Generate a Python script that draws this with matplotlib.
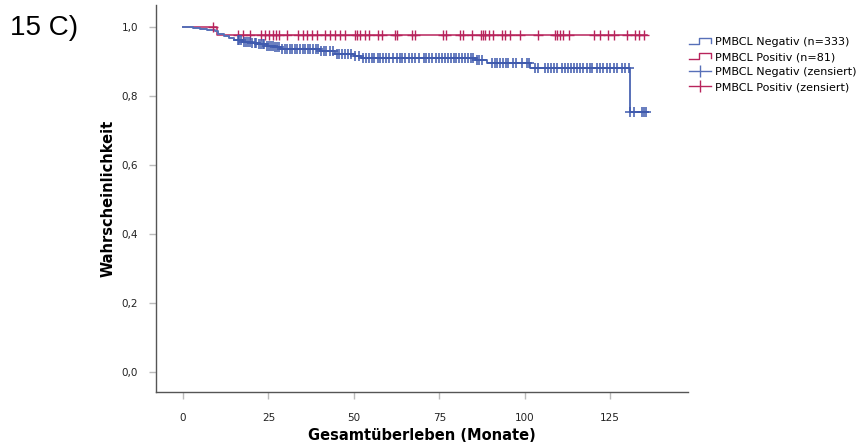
import numpy as np
import matplotlib
matplotlib.use("Agg")
import matplotlib.pyplot as plt
from matplotlib.lines import Line2D
from matplotlib.legend_handler import HandlerBase

# ---- data ----
neg_step_t = [0, 3, 5, 7, 9.5, 10.2, 12, 13.5, 15, 17.5, 20, 22, 24.5, 26.5, 28.5,
              40, 44.5, 50, 52, 85.7, 89, 101.6, 130.8, 136.2]
neg_step_s = [1.0, 0.997, 0.994, 0.991, 0.988, 0.979, 0.973, 0.968, 0.962, 0.958, 0.954,
              0.950, 0.946, 0.942, 0.937, 0.930, 0.921, 0.916, 0.911, 0.904, 0.895,
              0.880, 0.754, 0.754]
pos_step_t = [0, 9.9, 135.8]
pos_step_s = [1.0, 0.976, 0.976]

neg_cens = [16, 16.5, 17, 17.8, 18.5, 19, 19.6, 20.3, 21, 21.5, 22.3, 22.8, 23.3, 23.8,
            24.6, 25.2, 25.8, 26.3, 27, 27.6, 28.2, 29, 29.8, 30.5, 31.2, 32, 32.8, 33.5,
            34.2, 35, 35.8, 36.5, 37.2, 38, 38.8, 39.6, 40.4, 41.2, 42, 43, 44, 45,
            45.8, 46.6, 47.5, 48.3, 49.2, 50.4, 51.5, 52.6, 53.5, 54.3, 55.2, 56, 57,
            57.8, 58.6, 59.5, 60.3, 61.5, 62.5, 63.4, 64.2, 65, 66, 67, 68, 69.2, 70.4,
            71.2, 72.1, 73, 74, 75, 75.8, 76.6, 77.5, 78.3, 79.2, 80, 80.8, 81.7, 82.5,
            83.4, 84.2, 85, 86, 86.7, 87.4, 90.4, 91.2, 92, 92.8, 93.6, 94.4, 95.2,
            96.5, 97.5, 99.2, 100.6, 101.4, 103, 103.9, 106, 106.8, 107.6, 108.5, 109.4,
            110.9, 111.8, 112.7, 113.6, 114.5, 115.4, 116.3, 117.2, 118.2, 119.2, 119.6,
            121.1, 122, 123, 124, 125, 126, 127, 128.5, 129.4, 130.4, 130.9,
            131.9, 134.2, 134.9, 135.5]
pos_cens = [8.8, 16.2, 17.7, 19.6, 22.8, 24.0, 25.3, 26.3, 27.2, 28.2, 30.3, 33.8, 35.0,
            36.2, 37.7, 39.1, 41.6, 43.0, 44.5, 46.0, 47.4, 50.4, 51.0, 51.8, 53.3, 54.3,
            57.2, 58.2, 62.1, 62.7, 66.9, 67.9, 76.0, 77.0, 81.1, 81.9, 84.7, 87.1, 87.7,
            88.4, 89.7, 90.8, 93.3, 94.3, 95.7, 98.7, 104.0, 108.9, 109.4, 110.2, 111.3,
            113.1, 120.3, 122.1, 124.5, 126.0, 129.9, 132.3, 133.6, 134.8]

labels = ["PMBCL Negativ (n=333)", "PMBCL Positiv (n=81)",
          "PMBCL Negativ (zensiert)", "PMBCL Positiv (zensiert)"]
x_ticks = [0, 25, 50, 75, 100, 125]
y_ticks = [0.0, 0.2, 0.4, 0.6, 0.8, 1.0]

BLUE = "#3F5AAE"
BLUE_LINE = "#5770B8"
RED = "#B8245C"

def surv_at(tt, ss, x):
    idx = np.searchsorted(tt, x, side="right") - 1
    return np.asarray(ss)[idx]

fig = plt.figure(figsize=(8.67, 4.45), dpi=100)
ax = fig.add_axes([156/867, 1-392/445, (688-156)/867, (392-5)/445])

ax.step(neg_step_t, neg_step_s, where="post", color=BLUE_LINE, lw=1.4, zorder=3)
ax.step(pos_step_t, pos_step_s, where="post", color=RED, lw=1.1, zorder=2)
ax.plot(neg_cens, surv_at(neg_step_t, neg_step_s, neg_cens), ls="none", marker="+",
        ms=7, mew=1.1, color=BLUE, zorder=4)
ax.plot(pos_cens, surv_at(pos_step_t, pos_step_s, pos_cens), ls="none", marker="+",
        ms=7, mew=1.0, color=RED, zorder=3)

ax.set_xlim(-7.9, 147.8)
ax.set_ylim(-0.058, 1.064)
ax.set_xticks(x_ticks)
ax.set_yticks(y_ticks)
ax.set_yticklabels([f"{v:.1f}".replace(".", ",") for v in y_ticks])
for s in ["top", "right"]:
    ax.spines[s].set_visible(False)
for s in ["left", "bottom"]:
    ax.spines[s].set_color("#555555")
    ax.spines[s].set_linewidth(1.0)
ax.tick_params(axis="both", direction="out", length=5, width=1.0, color="#bbbbbb",
               labelsize=7.5, labelcolor="#222222", pad=8)
ax.tick_params(axis="x", pad=10)

ax.set_xlabel("Gesamtüberleben (Monate)", fontsize=10.5, fontweight="bold", labelpad=4)
ax.set_ylabel("Wahrscheinlichkeit", fontsize=10.5, fontweight="bold", labelpad=4)

fig.text(10/867, 1-28/445, "15 C)", fontsize=20, family="Liberation Sans",
         va="center", ha="left")

class StepHandler(HandlerBase):
    def create_artists(self, legend, orig_handle, xdescent, ydescent, width, height,
                       fontsize, trans):
        x0 = -xdescent
        y0 = -ydescent + height * 0.15
        y1 = -ydescent + height * 0.85
        xs = [x0, x0 + width * 0.45, x0 + width * 0.45, x0 + width, x0 + width]
        ys = [y0, y0, y1, y1, y0 + (y1 - y0) * 0.2]
        ln = Line2D(xs, ys, color=orig_handle.get_color(), lw=1.0, transform=trans)
        return [ln]

h_neg = Line2D([], [], color=BLUE_LINE)
h_pos = Line2D([], [], color=RED)
h_negc = Line2D([], [], color=BLUE_LINE, marker="|", ms=9, mew=1.0, lw=1.0)
h_posc = Line2D([], [], color=RED, marker="|", ms=9, mew=1.0, lw=1.0)
fig.legend([h_neg, h_pos, h_negc, h_posc], labels,
           handler_map={h_neg: StepHandler(), h_pos: StepHandler()},
           loc="upper left", bbox_to_anchor=(688/867, 1-36/445), frameon=False,
           fontsize=8, handlelength=2.0, handletextpad=0.3, labelspacing=0.45,
           borderaxespad=0, borderpad=0.1, numpoints=1)

fig.savefig("out.png", dpi=100)
